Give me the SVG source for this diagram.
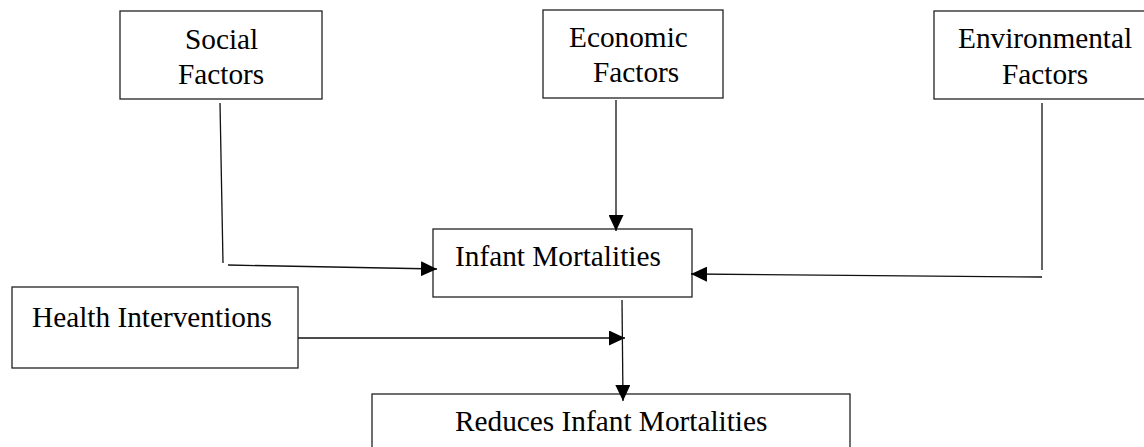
<svg xmlns="http://www.w3.org/2000/svg" width="1144" height="447" viewBox="0 0 1144 447">
<style>
.box{fill:#fff;stroke:#222;stroke-width:1.3}
.t{font-family:"Liberation Serif","Times New Roman",serif;font-size:29.3px;fill:#000}
.c{fill:none;stroke:#111;stroke-width:1.3}
</style>
<defs>
<marker id="ah" markerUnits="userSpaceOnUse" markerWidth="16" markerHeight="15" viewBox="0 0 16 15" refX="16" refY="7.5" orient="auto">
<path d="M0,0 L16,7.5 L0,15 Z" fill="#000"/>
</marker>
</defs>
<rect width="1144" height="447" fill="#fff"/>
<g id="social">
<rect class="box" x="120" y="11" width="202" height="88"/>
<text class="t" x="185" y="49">Social</text>
<text class="t" x="178" y="84">Factors</text>
</g>
<g id="economic">
<rect class="box" x="543" y="10" width="180" height="88"/>
<text class="t" x="569" y="47">Economic</text>
<text class="t" x="593" y="82">Factors</text>
</g>
<g id="environmental">
<rect class="box" x="934" y="11" width="220" height="88"/>
<text class="t" x="958" y="48">Environmental</text>
<text class="t" x="1002" y="84">Factors</text>
</g>
<g id="infant">
<rect class="box" x="433" y="229" width="259" height="68"/>
<text class="t" x="455" y="266">Infant Mortalities</text>
</g>
<g id="health">
<rect class="box" x="12" y="287" width="286" height="81"/>
<text class="t" x="32" y="327">Health Interventions</text>
</g>
<g id="reduces">
<rect class="box" x="372" y="394" width="478" height="70"/>
<text class="t" x="455" y="431">Reduces Infant Mortalities</text>
</g>
<g id="connectors">
<line class="c" x1="220" y1="103" x2="223" y2="263"/>
<line class="c" x1="228" y1="265" x2="437" y2="269" marker-end="url(#ah)"/>
<line class="c" x1="616" y1="100" x2="616" y2="231" marker-end="url(#ah)"/>
<line class="c" x1="1042" y1="103" x2="1042" y2="270"/>
<line class="c" x1="1042" y1="277" x2="691" y2="274" marker-end="url(#ah)"/>
<line class="c" x1="298" y1="338" x2="625" y2="338" marker-end="url(#ah)"/>
<line class="c" x1="622" y1="300" x2="623" y2="401" marker-end="url(#ah)"/>
</g>
</svg>
